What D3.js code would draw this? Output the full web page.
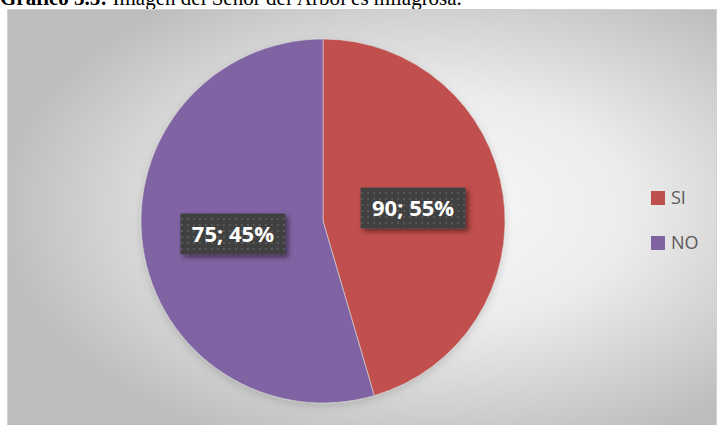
<!DOCTYPE html>
<html>
<head>
<meta charset="utf-8">
<script src="https://cdn.jsdelivr.net/npm/d3@7"></script>
<style>
  body { margin: 0; background: #fff; }
  svg { display: block; }
</style>
</head>
<body>
<div class="chartHolder"></div>
<script>
// slices as drawn in the picture (red is the smaller slice)
let categories = ["SI", "NO"],
  sliceValues = [75, 90],
  labelTexts = ["90; 55%", "75; 45%"],
  colors = ["#c0504d", "#8064a2"];

let w = 717,
  h = 425,
  cx = 323,
  cy = 221,
  r = 182;

let svg = d3.select(".chartHolder")
  .append("svg")
  .attr("width", w)
  .attr("height", h);

let defs = svg.append("defs");

let grad = defs.append("radialGradient")
  .attr("id", "bg")
  .attr("cx", "60%").attr("cy", "48%").attr("r", "62%");
grad.append("stop").attr("offset", "0%").attr("stop-color", "#f9f9f9");
grad.append("stop").attr("offset", "45%").attr("stop-color", "#ececec");
grad.append("stop").attr("offset", "100%").attr("stop-color", "#bdbdbd");

let dots = defs.append("pattern")
  .attr("id", "dots")
  .attr("width", 6).attr("height", 6)
  .attr("patternUnits", "userSpaceOnUse");
dots.append("rect").attr("width", 6).attr("height", 6).attr("fill", "#404040");
dots.append("rect").attr("x", 2).attr("y", 2).attr("width", 2).attr("height", 2).attr("fill", "#595959");

let shadow = defs.append("filter").attr("id", "shadow")
  .attr("x", "-20%").attr("y", "-20%").attr("width", "150%").attr("height", "160%");
shadow.append("feDropShadow")
  .attr("dx", 3).attr("dy", 3).attr("stdDeviation", 2.5)
  .attr("flood-color", "#000").attr("flood-opacity", 0.45);

let pieShadow = defs.append("filter").attr("id", "pieShadow")
  .attr("x", "-20%").attr("y", "-20%").attr("width", "140%").attr("height", "140%");
pieShadow.append("feDropShadow")
  .attr("dx", 0).attr("dy", 3).attr("stdDeviation", 4)
  .attr("flood-color", "#000").attr("flood-opacity", 0.15);

// title (cut at the top, as in the document)
let title = svg.append("text")
  .attr("x", 0)
  .attr("y", 5)
  .style("font-family", "'Liberation Serif', 'Times New Roman', serif")
  .style("font-size", "21px")
  .attr("fill", "#000");
title.append("tspan").style("font-weight", "bold").text("Gráfico 3.5:");
title.append("tspan").text(" Imagen del Señor del Árbol es milagrosa.");

// chart area
svg.append("rect")
  .attr("x", 7.5).attr("y", 9.5)
  .attr("width", w - 8).attr("height", h - 9)
  .attr("fill", "url(#bg)")
  .attr("stroke", "#d0d0d0");

let pie = d3.pie().sort(null).value(d => d)(sliceValues);
let arc = d3.arc().innerRadius(0).outerRadius(r);

let g = svg.append("g")
  .attr("transform", "translate(" + cx + "," + cy + ")")
  .attr("filter", "url(#pieShadow)");

g.selectAll("path")
  .data(pie)
  .enter()
  .append("path")
  .attr("d", arc)
  .attr("fill", (d, i) => colors[i])
  .attr("stroke", "#d9d9d9")
  .attr("stroke-width", 0.6);

// data labels
let labelArc = d3.arc().innerRadius(r * 0.5).outerRadius(r * 0.5);
let boxW = 105, boxH = 41;

let labels = svg.append("g")
  .attr("transform", "translate(" + cx + "," + cy + ")")
  .selectAll("g")
  .data(pie)
  .enter()
  .append("g")
  .attr("transform", d => {
    let c = labelArc.centroid(d);
    return "translate(" + c[0] + "," + c[1] + ")";
  });

labels.append("rect")
  .attr("x", -boxW / 2).attr("y", -boxH / 2)
  .attr("width", boxW).attr("height", boxH)
  .attr("fill", "url(#dots)")
  .attr("filter", "url(#shadow)");

labels.append("text")
  .attr("text-anchor", "middle")
  .attr("dy", "0.36em")
  .style("font-family", "'Open Sans', 'Liberation Sans', sans-serif")
  .style("font-size", "22px")
  .style("font-weight", "bold")
  .attr("fill", "#fff")
  .text((d, i) => labelTexts[i]);

// legend
let legend = svg.append("g")
  .selectAll("g")
  .data(categories)
  .enter()
  .append("g")
  .attr("transform", (d, i) => "translate(651," + (191 + i * 45) + ")");

legend.append("rect")
  .attr("width", 14).attr("height", 14)
  .attr("fill", (d, i) => colors[i]);

legend.append("text")
  .attr("x", 20)
  .attr("y", 7)
  .attr("dy", "0.36em")
  .style("font-family", "'Open Sans', 'Liberation Sans', sans-serif")
  .style("font-size", "18px")
  .attr("fill", "#595959")
  .text(d => d);
</script>
</body>
</html>
